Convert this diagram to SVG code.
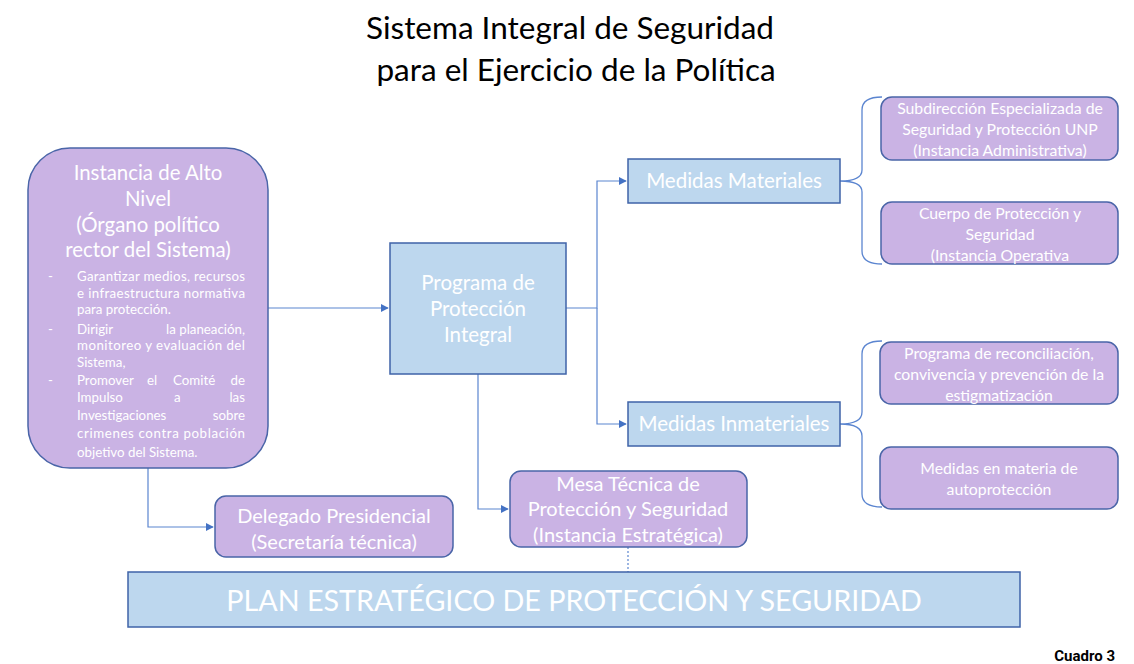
<svg xmlns="http://www.w3.org/2000/svg" width="1134" height="664" viewBox="0 0 1134 664">
<defs>
<style>
.t{font-family:Lato,"Open Sans","Liberation Sans",sans-serif;fill:#fff;text-anchor:middle}
.b{font-family:Lato,"Open Sans","Liberation Sans",sans-serif;fill:#fff;font-size:13.3px}
.p{fill:#CAB3E4;stroke:#4A65A8;stroke-width:1.5}
.bl{fill:#BDD7EE;stroke:#3F63A8;stroke-width:1.5}
.c{fill:none;stroke:#5B85D0;stroke-width:1.2}
.br{fill:none;stroke:#5B85D0;stroke-width:1.3}
</style>
<marker id="ar" viewBox="0 0 10 10" refX="9" refY="5" markerWidth="8" markerHeight="8" markerUnits="userSpaceOnUse" orient="auto"><path d="M0,0 L10,5 L0,10 z" fill="#4472C4"/></marker>
</defs>
<rect width="1134" height="664" fill="#fff"/>
<g id="title" font-family="Lato,'Open Sans','Liberation Sans',sans-serif" font-size="31.5" fill="#000" text-anchor="middle">
<text x="570" y="39">Sistema Integral de Seguridad</text>
<text x="576" y="81">para el Ejercicio de la Política</text>
</g>
<g id="connectors">
<path class="c" d="M268,308 H388" marker-end="url(#ar)"/>
<path class="c" d="M566,308 H597 V181 H626" marker-end="url(#ar)"/>
<path class="c" d="M597,308 V424 H626" marker-end="url(#ar)"/>
<path class="c" d="M478,374 V509 H508" marker-end="url(#ar)"/>
<path class="c" d="M148,468 V527 H213" marker-end="url(#ar)"/>
<path class="c" d="M628,547 V572" stroke-dasharray="2,2"/>
<path class="br" d="M882,97 Q862,97 862,110 V170 Q862,181 840,181 Q862,181 862,192 V251 Q862,264 882,264"/>
<path class="br" d="M882,341 Q862,341 862,354 V412 Q862,424 840,424 Q862,424 862,436 V494 Q862,507 882,507"/>
</g>
<g id="instancia">
<rect class="p" x="28" y="148" width="240" height="320" rx="42"/>
<text class="t" font-size="20.4" x="148" y="180">Instancia de Alto</text>
<text class="t" font-size="20.4" x="148" y="206">Nivel</text>
<text class="t" font-size="20.4" x="148" y="232">(Órgano político</text>
<text class="t" font-size="20.4" x="148" y="257">rector del Sistema)</text>
<text class="b" x="48" y="281">-</text>
<text class="b" x="77" y="281" textLength="168" lengthAdjust="spacing">Garantizar medios, recursos</text>
<text class="b" x="77" y="298" textLength="168" lengthAdjust="spacing">e infraestructura normativa</text>
<text class="b" x="77" y="314">para protección.</text>
<text class="b" x="48" y="334">-</text>
<text class="b" x="77" y="334">Dirigir</text>
<text class="b" x="166" y="334">la</text>
<text class="b" x="245" y="334" text-anchor="end">planeación,</text>
<text class="b" x="77" y="350" textLength="168" lengthAdjust="spacing">monitoreo y evaluación del</text>
<text class="b" x="77" y="367">Sistema,</text>
<text class="b" x="48" y="385">-</text>
<text class="b" x="77" y="385">Promover</text>
<text class="b" x="147" y="385">el</text>
<text class="b" x="173" y="385">Comité</text>
<text class="b" x="245" y="385" text-anchor="end">de</text>
<text class="b" x="77" y="402">Impulso</text>
<text class="b" x="174" y="402">a</text>
<text class="b" x="245" y="402" text-anchor="end">las</text>
<text class="b" x="77" y="420">Investigaciones</text>
<text class="b" x="245" y="420" text-anchor="end">sobre</text>
<text class="b" x="77" y="438" textLength="168" lengthAdjust="spacing">crimenes contra población</text>
<text class="b" x="77" y="457">objetivo del Sistema.</text>
</g>
<g id="programa">
<rect class="bl" x="390" y="243" width="176" height="131"/>
<text class="t" font-size="20.5" x="478" y="290">Programa de</text>
<text class="t" font-size="20.5" x="478" y="316">Protección</text>
<text class="t" font-size="20.5" x="478" y="342">Integral</text>
</g>
<g id="materiales">
<rect class="bl" x="628" y="159" width="212" height="44"/>
<text class="t" font-size="20.5" x="734" y="188">Medidas Materiales</text>
</g>
<g id="inmateriales">
<rect class="bl" x="628" y="402" width="212" height="44"/>
<text class="t" font-size="20.5" x="734" y="431">Medidas Inmateriales</text>
</g>
<g id="subdireccion">
<rect class="p" x="881" y="97" width="237" height="63" rx="11"/>
<text class="t" font-size="15.8" x="1000" y="114">Subdirección Especializada de</text>
<text class="t" font-size="15.8" x="1000" y="135">Seguridad y Protección UNP</text>
<text class="t" font-size="15.8" x="1000" y="156">(Instancia Administrativa)</text>
</g>
<g id="cuerpo">
<rect class="p" x="881" y="202" width="237" height="62" rx="11"/>
<text class="t" font-size="15.8" x="1000" y="219">Cuerpo de Protección y</text>
<text class="t" font-size="15.8" x="1000" y="240">Seguridad</text>
<text class="t" font-size="15.8" x="1000" y="261">(Instancia Operativa</text>
</g>
<g id="reconciliacion">
<rect class="p" x="880" y="342" width="238" height="62" rx="11"/>
<text class="t" font-size="15.8" x="999" y="359">Programa de reconciliación,</text>
<text class="t" font-size="15.8" x="999" y="380">convivencia y prevención de la</text>
<text class="t" font-size="15.8" x="999" y="401">estigmatización</text>
</g>
<g id="autoproteccion">
<rect class="p" x="880" y="447" width="238" height="62" rx="11"/>
<text class="t" font-size="15.8" x="999" y="474">Medidas en materia de</text>
<text class="t" font-size="15.8" x="999" y="495">autoprotección</text>
</g>
<g id="delegado">
<rect class="p" x="215" y="496" width="238" height="61" rx="11"/>
<text class="t" font-size="20" x="334" y="523">Delegado Presidencial</text>
<text class="t" font-size="20" x="334" y="549">(Secretaría técnica)</text>
</g>
<g id="mesa">
<rect class="p" x="510" y="471" width="237" height="76" rx="11"/>
<text class="t" font-size="20" x="628" y="491">Mesa Técnica de</text>
<text class="t" font-size="20" x="628" y="516">Protección y Seguridad</text>
<text class="t" font-size="20" x="628" y="542">(Instancia Estratégica)</text>
</g>
<g id="plan">
<rect class="bl" x="128" y="572" width="892" height="55"/>
<text class="t" font-size="28.7" x="574" y="611">PLAN ESTRATÉGICO DE PROTECCIÓN Y SEGURIDAD</text>
</g>
<text x="1115" y="661" font-family="Roboto,'Liberation Sans',sans-serif" font-weight="bold" font-size="15" text-anchor="end" fill="#000">Cuadro 3</text>
</svg>
